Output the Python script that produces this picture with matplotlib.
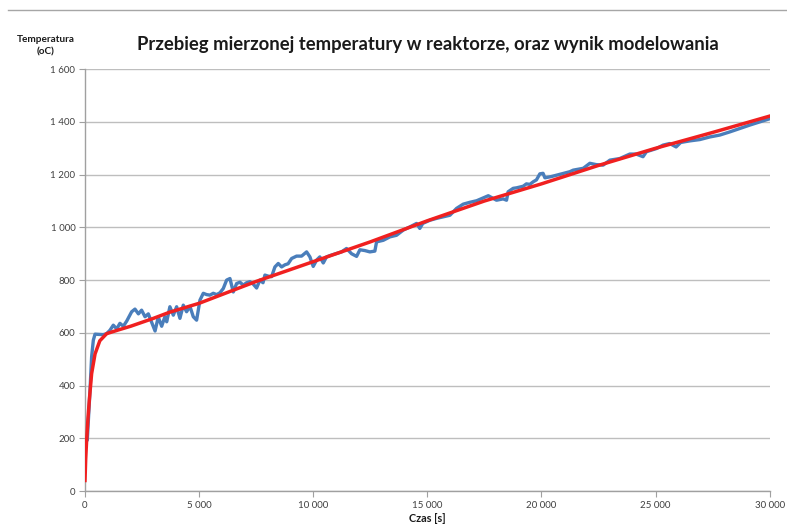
import matplotlib
matplotlib.use("Agg")
import matplotlib.pyplot as plt
from matplotlib.lines import Line2D
from matplotlib.ticker import FuncFormatter

czas_pomiar = [0, 100, 220, 290, 365, 440, 800, 950, 1095, 1240, 1390, 1530, 1680, 1830,
               2045, 2190, 2340, 2480, 2630, 2775, 2920, 3070, 3210, 3360, 3500, 3580,
               3720, 3870, 4015, 4160, 4306, 4450, 4600, 4745, 4890, 5037, 5183, 5330,
               5475, 5620, 5770, 5913, 6059, 6205, 6351, 6497, 6643, 6790, 6935, 7080,
               7227, 7370, 7519, 7665, 7800, 7884, 8030, 8176, 8322, 8468, 8614, 8760,
               8900, 9054, 9270, 9490, 9710, 9855, 10000, 10150, 10290, 10440, 10580,
               10800, 11020, 11240, 11460, 11680, 11900, 12045, 12265, 12480, 12700,
               12775, 13070, 13360, 13650, 13950, 14240, 14530, 14670, 14800, 15110,
               15400, 15700, 15990, 16280, 16570, 16860, 17160, 17450, 17670, 17880,
               18030, 18320, 18470, 18540, 18760, 18910, 19200, 19340, 19490, 19640,
               19780, 19930, 20070, 20150, 20400, 20660, 20950, 21240, 21390, 21830,
               22120, 22400, 22700, 23000, 23430, 23870, 24150, 24450, 24600, 25040,
               25330, 25620, 25900, 26100, 26500, 26940, 27380, 27810, 28250, 28690,
               29130, 29570, 30000]
temp_pomiar = [187, 193, 383, 509, 572, 595, 593, 597, 610, 629, 615, 636, 625, 645,
               680, 690, 672, 686, 661, 672, 640, 607, 660, 625, 661, 642,
               699, 667, 699, 655, 705, 680, 700, 661, 648, 724, 750, 745,
               743, 750, 745, 752, 768, 800, 806, 755, 787, 792, 781, 790,
               794, 785, 770, 800, 790, 819, 815, 813, 850, 863, 850, 858,
               862, 882, 891, 891, 907, 888, 852, 876, 888, 865, 888,
               895, 901, 907, 920, 900, 890, 915, 912, 907, 910,
               945, 951, 964, 970, 990, 1002, 1015, 996, 1015, 1027,
               1034, 1040, 1046, 1072, 1088, 1095, 1101, 1112, 1120, 1110,
               1103, 1108, 1103, 1135, 1148, 1150, 1156, 1165, 1163, 1173,
               1180, 1203, 1205, 1188, 1192, 1198, 1205, 1211, 1217, 1224,
               1243, 1238, 1236, 1255, 1261, 1278, 1278, 1268, 1287, 1299,
               1312, 1318, 1305, 1322, 1328, 1333, 1343, 1350, 1362, 1375,
               1388, 1400, 1412]

# model result (red)
czas_model = [0, 30, 70, 130, 190, 290, 440, 650, 950, 1500, 2000, 3000, 3700, 5000,
              7500, 10000, 12500, 15000, 17500, 20000, 22500, 25000, 27500, 30000]
temp_model = [40, 120, 190, 275, 345, 445, 520, 570, 597, 612, 625, 655, 678, 712,
              795, 870, 945, 1025, 1100, 1165, 1235, 1300, 1360, 1422]

y_ticks = [0, 200, 400, 600, 800, 1000, 1200, 1400, 1600]
x_ticks = [0, 5000, 10000, 15000, 20000, 25000, 30000]

plt.rcParams["font.family"] = ["Lato", "DejaVu Sans"]

fig = plt.figure(figsize=(7.87, 5.28), dpi=100)
ax = fig.add_axes([0.108, 0.070, 0.870, 0.799])

ax.plot(czas_pomiar, temp_pomiar, color="#4A7EBB", lw=2.4, zorder=3)
ax.plot(czas_model, temp_model, color="#F02020", lw=2.5, zorder=4)

ax.set_xlim(0, 30000)
ax.set_ylim(0, 1600)
ax.set_xticks(x_ticks)
ax.set_yticks(y_ticks)
fmt = FuncFormatter(lambda v, p: "{:,}".format(int(v)).replace(",", " "))
ax.xaxis.set_major_formatter(fmt)
ax.yaxis.set_major_formatter(fmt)
ax.tick_params(labelsize=7, colors="#404040", length=4, width=0.8, pad=3)
ax.tick_params(axis="both", color="#A0A0A0")

ax.grid(axis="y", color="#BEBEBE", lw=1.0)
ax.set_axisbelow(True)
for s in ["top", "right"]:
    ax.spines[s].set_visible(False)
for s in ["left", "bottom"]:
    ax.spines[s].set_color("#A0A0A0")
    ax.spines[s].set_linewidth(1.0)

fig.text(0.544, 0.915, "Przebieg mierzonej temperatury w reaktorze, oraz wynik modelowania",
         ha="center", va="center", fontsize=13.3, fontweight="bold", color="#1A1A1A")
fig.text(0.058, 0.913, "Temperatura\n(oC)", ha="center", va="center", fontsize=7.2,
         fontweight="bold", color="#1A1A1A", linespacing=1.45)
fig.text(0.543, 0.018, "Czas [s]", ha="center", va="center", fontsize=7.8,
         fontweight="bold", color="#1A1A1A")

# chart border line at the top
fig.add_artist(Line2D([0.010, 1.0], [0.981, 0.981], transform=fig.transFigure,
                      color="#A6A6A6", lw=1.0))

fig.savefig("out.png", dpi=100)
